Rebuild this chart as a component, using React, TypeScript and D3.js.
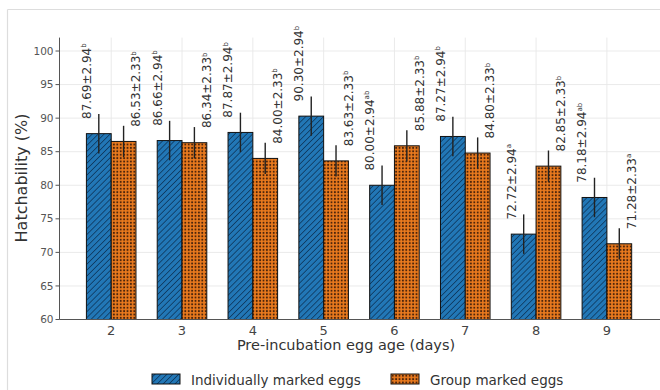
import React from 'react';
import * as d3 from 'd3';

const ages = [2, 3, 4, 5, 6, 7, 8, 9];
const individualMeans = [87.69, 86.66, 87.87, 90.3, 80.0, 87.27, 72.72, 78.18];
const individualSE = [2.94, 2.94, 2.94, 2.94, 2.94, 2.94, 2.94, 2.94];
const individualLetters = ['b', 'b', 'b', 'b', 'ab', 'b', 'a', 'ab'];
const groupMeans = [86.53, 86.34, 84.0, 83.63, 85.88, 84.8, 82.85, 71.28];
const groupSE = [2.33, 2.33, 2.33, 2.33, 2.33, 2.33, 2.33, 2.33];
const groupLetters = ['b', 'b', 'b', 'b', 'b', 'b', 'b', 'a'];
const yTicks = [60, 65, 70, 75, 80, 85, 90, 95, 100];
const seriesNames = ['Individually marked eggs', 'Group marked eggs'];

const W = 660;
const H = 390;
const FONT = 'DejaVu Sans, sans-serif';

export default function App() {
  const x = d3.scaleLinear().domain([1.27, 9.75]).range([59.5, 660]);
  const y = d3.scaleLinear().domain([60, 102]).range([319.5, 37.6]);
  const bw = 0.35;
  const pxw = x(bw) - x(0);

  const series = [
    { means: individualMeans, se: individualSE, letters: individualLetters, fill: 'url(#hatchBlue)', side: -1, off: 5 },
    { means: groupMeans, se: groupSE, letters: groupLetters, fill: 'url(#dotsOrange)', side: 1, off: 1 },
  ];

  return (
    <svg width={W} height={H} style={{ position: 'absolute', left: 0, top: 0, background: '#fff' }} fontFamily={FONT}>
      <defs>
        <pattern id="hatchBlue" width={4.2} height={4.2} patternUnits="userSpaceOnUse" patternTransform="rotate(45)">
          <rect width={4.2} height={4.2} fill="#2277b6" />
          <line x1={0} y1={0} x2={0} y2={4.2} stroke="#0c3358" strokeWidth={1.5} />
        </pattern>
        <pattern id="dotsOrange" width={3.4} height={3.4} patternUnits="userSpaceOnUse">
          <rect width={3.4} height={3.4} fill="#ea7a1e" />
          <circle cx={1.7} cy={1.7} r={1.0} fill="#4a230a" />
        </pattern>
      </defs>
      {/* figure frame */}
      <line x1={7.5} y1={9.5} x2={7.5} y2={H} stroke="#dddddd" strokeWidth={1.2} />
      <line x1={7.5} y1={9.5} x2={W} y2={9.5} stroke="#dddddd" strokeWidth={1.2} />

      {/* grid */}
      {yTicks.map((t) => (
        <line key={'gy' + t} x1={59.5} x2={660} y1={y(t)} y2={y(t)} stroke="#e8e8e8" strokeWidth={0.9} />
      ))}
      {ages.map((a) => (
        <line key={'gx' + a} x1={x(a)} x2={x(a)} y1={y(102)} y2={y(60)} stroke="#e8e8e8" strokeWidth={0.9} />
      ))}

      {/* bars */}
      {series.map((s, si) =>
        ages.map((a, i) => {
          const x0 = s.side < 0 ? x(a - bw) : x(a);
          return (
            <rect
              key={'b' + si + '-' + a}
              x={x0}
              y={y(s.means[i])}
              width={pxw}
              height={y(60) - y(s.means[i])}
              fill={s.fill}
              stroke="#111"
              strokeWidth={1}
            />
          );
        })
      )}

      {/* error bars */}
      {series.map((s, si) =>
        ages.map((a, i) => {
          const xc = s.side < 0 ? x(a - bw / 2) : x(a + bw / 2);
          return (
            <line
              key={'e' + si + '-' + a}
              x1={xc}
              x2={xc}
              y1={y(s.means[i] + s.se[i])}
              y2={y(s.means[i] - s.se[i])}
              stroke="#222"
              strokeWidth={1.4}
            />
          );
        })
      )}

      {/* value labels */}
      {series.map((s, si) =>
        ages.map((a, i) => {
          const lx = s.side < 0 ? x(a - bw) : x(a + bw);
          const ly = y(s.means[i] + s.se[i]) + s.off;
          return (
            <text
              key={'l' + si + '-' + a}
              transform={`translate(${lx},${ly}) rotate(-90)`}
              dy="0.36em"
              fontSize={12}
              fill="#333"
              textAnchor="start"
            >
              {s.means[i].toFixed(2)}±{s.se[i].toFixed(2)}
              <tspan fontSize={7} dy="-0.65em">{s.letters[i]}</tspan>
            </text>
          );
        })
      )}

      {/* axes */}
      <line x1={59.5} x2={59.5} y1={y(102)} y2={y(60)} stroke="#555" strokeWidth={1} />
      <line x1={59.5} x2={660} y1={y(60)} y2={y(60)} stroke="#555" strokeWidth={1} />
      {yTicks.map((t) => (
        <g key={'yt' + t}>
          <line x1={55.5} x2={59.5} y1={y(t)} y2={y(t)} stroke="#555" />
          <text x={53.5} y={y(t)} dy="0.35em" textAnchor="end" fontSize={10.5} fill="#555">
            {t}
          </text>
        </g>
      ))}
      {ages.map((a) => (
        <text key={'xt' + a} x={x(a)} y={334.5} textAnchor="middle" fontSize={13} fill="#444">
          {a}
        </text>
      ))}
      <text x={346} y={350} textAnchor="middle" fontSize={14.5} fill="#333">
        Pre-incubation egg age (days)
      </text>
      <text transform="translate(21.5,178) rotate(-90)" dy="0.36em" textAnchor="middle" fontSize={16} fill="#333">
        Hatchability (%)
      </text>

      {/* legend */}
      <rect x={152} y={374} width={28} height={10} fill="url(#hatchBlue)" stroke="#111" strokeWidth={1} />
      <text x={191} y={385} fontSize={13.5} fill="#333">{seriesNames[0]}</text>
      <rect x={391} y={374} width={28} height={10} fill="url(#dotsOrange)" stroke="#111" strokeWidth={1} />
      <text x={430} y={385} fontSize={13.5} fill="#333">{seriesNames[1]}</text>
    </svg>
  );
}
